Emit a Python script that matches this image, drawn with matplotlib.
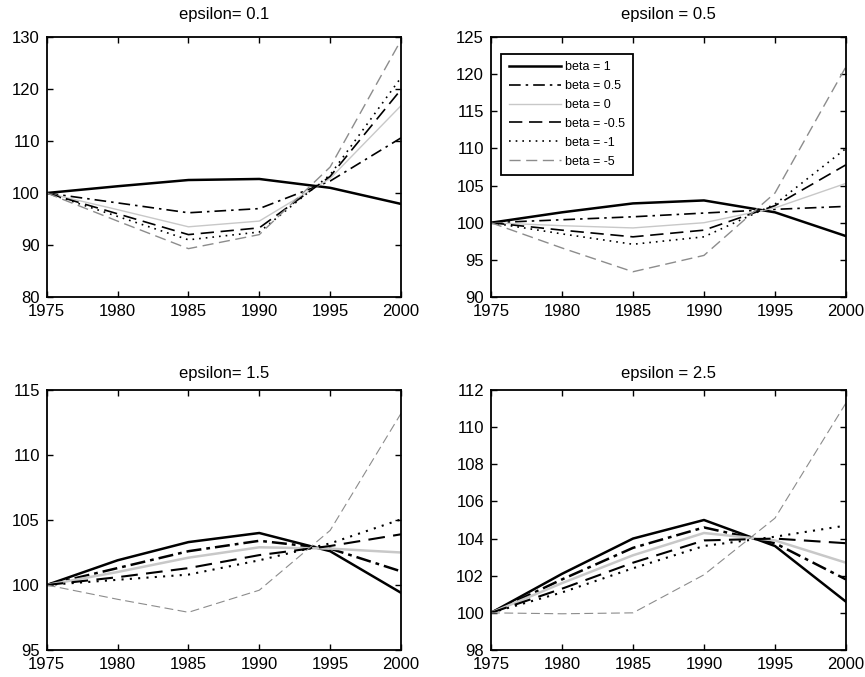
import matplotlib.pyplot as plt
import numpy as np

plt.rcParams['font.family'] = ['Liberation Sans', 'DejaVu Sans']

years = [1975, 1980, 1985, 1990, 1995, 2000]
beta_labels = ['beta = 1', 'beta = 0.5', 'beta = 0', 'beta = -0.5', 'beta = -1', 'beta = -5']
titles = ['epsilon= 0.1', 'epsilon = 0.5', 'epsilon= 1.5', 'epsilon = 2.5']

# epsilon = 0.1
eps01 = [
    [100, 101.3, 102.5, 102.7, 101.0, 97.9],
    [100, 98.1, 96.2, 97.0, 102.3, 110.6],
    [100, 96.8, 93.5, 94.6, 102.8, 116.8],
    [100, 96.0, 92.0, 93.3, 103.2, 119.9],
    [100, 95.5, 91.0, 92.5, 103.5, 122.2],
    [100, 94.6, 89.3, 92.0, 105.0, 129.4],
]
# epsilon = 0.5
eps05 = [
    [100, 101.4, 102.6, 103.0, 101.4, 98.2],
    [100, 100.4, 100.8, 101.3, 101.8, 102.2],
    [100, 99.6, 99.3, 100.0, 102.0, 105.3],
    [100, 99.0, 98.1, 99.0, 102.3, 107.8],
    [100, 98.5, 97.1, 98.1, 102.5, 110.0],
    [100, 96.6, 93.4, 95.6, 104.0, 121.0],
]
# epsilon = 1.5
eps15 = [
    [100, 101.9, 103.3, 104.0, 102.6, 99.4],
    [100, 101.3, 102.6, 103.4, 102.8, 101.05],
    [100, 101.0, 102.1, 102.9, 102.8, 102.5],
    [100, 100.6, 101.3, 102.3, 103.0, 103.9],
    [100, 100.4, 100.8, 101.9, 103.2, 105.05],
    [100, 98.9, 97.9, 99.6, 104.2, 113.2],
]
# epsilon = 2.5
eps25 = [
    [100, 102.1, 104.0, 105.0, 103.6, 100.6],
    [100, 101.8, 103.5, 104.6, 103.75, 101.8],
    [100, 101.6, 103.1, 104.3, 103.9, 102.7],
    [100, 101.3, 102.7, 103.9, 104.0, 103.75],
    [100, 101.1, 102.4, 103.6, 104.1, 104.7],
    [100, 99.95, 100.0, 102.05, 105.1, 111.3],
]
all_data = [eps01, eps05, eps15, eps25]
ylims = [(80, 130), (90, 125), (95, 115), (98, 112)]
yticks = [np.arange(80, 131, 10), np.arange(90, 126, 5), np.arange(95, 116, 5), np.arange(98, 113, 2)]

styles = [
    dict(color='black', ls='-', lw=1.8),
    dict(color='black', ls=(0, (7, 3, 1.5, 3)), lw=1.2),
    dict(color='#c8c8c8', ls='-', lw=1.0),
    dict(color='black', ls=(0, (8, 4)), lw=1.2),
    dict(color='black', ls=(0, (1, 3)), lw=1.2),
    dict(color='#8c8c8c', ls=(0, (8, 4)), lw=1.0),
]
styles_bottom = [
    dict(color='black', ls='-', lw=1.8),
    dict(color='black', ls=(0, (6, 2, 1.5, 2)), lw=1.8),
    dict(color='#c8c8c8', ls='-', lw=1.8),
    dict(color='black', ls=(0, (8, 4)), lw=1.5),
    dict(color='black', ls=(0, (1, 3)), lw=1.5),
    dict(color='#8c8c8c', ls=(0, (8, 4)), lw=0.8),
]

fig = plt.figure(figsize=(8.65, 6.77), dpi=100)
positions = [
    [0.054, 0.5613, 0.4096, 0.384],
    [0.5676, 0.5613, 0.4104, 0.384],
    [0.054, 0.0399, 0.4096, 0.384],
    [0.5676, 0.0399, 0.4104, 0.384],
]

for k in range(4):
    ax = fig.add_axes(positions[k])
    st = styles if k < 2 else styles_bottom
    for i in range(6):
        ax.plot(years, all_data[k][i], label=beta_labels[i], **st[i])
    ax.set_xlim(1975, 2000)
    ax.set_ylim(*ylims[k])
    ax.set_xticks(years)
    ax.set_yticks(yticks[k])
    ax.set_title(titles[k], fontsize=12, pad=13 if k < 2 else 9)
    ax.tick_params(direction='in', top=True, right=True, labelsize=12, length=4, width=1)
    ax.tick_params(axis='x', pad=5)
    ax.tick_params(axis='y', pad=5)
    for sp in ax.spines.values():
        sp.set_linewidth(1.3)
    if k == 1:
        leg = ax.legend(loc='upper left', bbox_to_anchor=(0.012, 0.96), fontsize=9,
                        fancybox=False, edgecolor='black', framealpha=1,
                        handlelength=4.2, handletextpad=0.3, labelspacing=0.55,
                        borderpad=0.6)
        leg.get_frame().set_linewidth(1.3)

plt.savefig('out.png', dpi=100)
